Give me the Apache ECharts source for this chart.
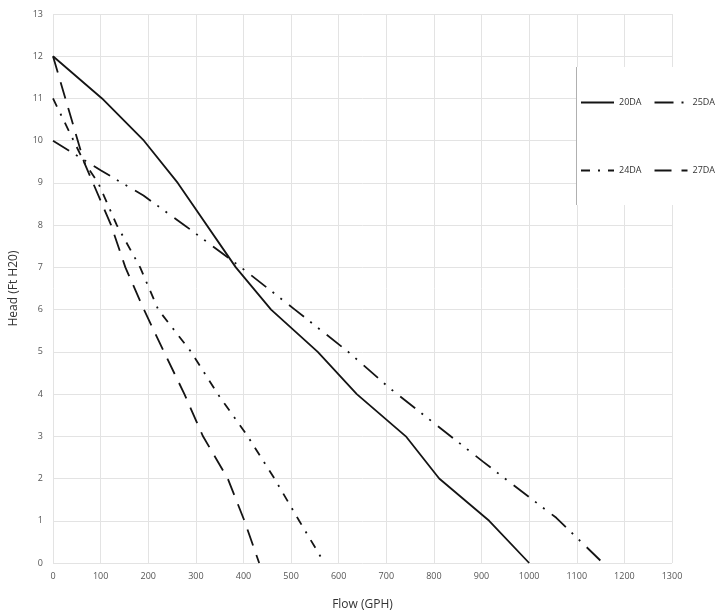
<!DOCTYPE html>
<html>
<head>
<meta charset="utf-8">
<script src="https://cdn.jsdelivr.net/npm/echarts@6/dist/echarts.min.js"></script>
<style>html,body{margin:0;padding:0;background:#fff;}#c{width:715px;height:616px;}</style>
</head>
<body>
<div id="c"></div>
<script>
// Flow (GPH), Head (Ft H20)
const s20DA = [[0,12],[103,11],[191,10],[262,9],[384,7],[458,6],[556,5],[638,4],[741,3],[811,2],[916,1],[1000,0]];
const s25DA = [[0,10],[100,9.3],[190,8.7],[276,8],[395,7],[508,6],[620,5],[706,4.15],[805,3.27],[903,2.4],[1000,1.56],[1057,1.07],[1155,0]];
const s24DA = [[0,11],[65,9.5],[95,9],[134,8],[183,7],[221,6],[290,5],[346,4],[409,3],[465,2],[517,1],[570,0]];
const s27DA = [[0,12],[65,9.5],[84,9],[122,8],[152,7],[191,6],[233,5],[276,4],[315,3],[367,2],[402,1],[433,0]];
const names = ['20DA','25DA','24DA','27DA'];

const FONT = 'Open Sans';
const chart = echarts.init(document.getElementById('c'));
function ser(name, data, dash) {
  return {
    name: name, type: 'line', data: data, symbol: 'none', smooth: false,
    lineStyle: {color: '#141414', width: 1.8, type: dash},
    itemStyle: {color: '#141414'},
    z: 3
  };
}
const legendBase = {
  orient: 'horizontal', left: 580, width: 200, padding: 0, itemWidth: 33, itemHeight: 10, itemGap: 12, z: 20,
  itemStyle: {opacity: 0},
  textStyle: {fontFamily: FONT, fontSize: 9, color: '#333'}
};
chart.setOption({
  animation: false,
  backgroundColor: '#fff',
  grid: {left: 52, right: 43, top: 14, bottom: 53, containLabel: false},
  xAxis: {
    type: 'value', min: 0, max: 1300, interval: 100,
    name: 'Flow (GPH)', nameLocation: 'middle', nameGap: 36,
    nameTextStyle: {fontFamily: FONT, fontSize: 12, color: '#333'},
    axisLine: {show: false}, axisTick: {show: false},
    axisLabel: {fontFamily: FONT, fontSize: 9, color: '#555', margin: 9, formatter: function (v) { return String(v); }},
    splitLine: {show: true, lineStyle: {color: '#e3e3e3', width: 1}}
  },
  yAxis: {
    type: 'value', min: 0, max: 13, interval: 1,
    name: 'Head (Ft H20)', nameLocation: 'middle', nameGap: 33,
    nameTextStyle: {fontFamily: FONT, fontSize: 12, color: '#333'},
    axisLine: {show: false}, axisTick: {show: false},
    axisLabel: {fontFamily: FONT, fontSize: 9, color: '#555', margin: 10},
    splitLine: {show: true, lineStyle: {color: '#e3e3e3', width: 1}}
  },
  graphic: [
    {type: 'rect', z: 10, shape: {x: 577, y: 67, width: 140, height: 138}, style: {fill: '#fff'}},
    {type: 'line', z: 11, shape: {x1: 576.5, y1: 67, x2: 576.5, y2: 205}, style: {stroke: '#b0b0b0', lineWidth: 1}}
  ],
  legend: [
    Object.assign({}, legendBase, {data: [names[0], names[1]], top: 98}),
    Object.assign({}, legendBase, {data: [names[2], names[3]], top: 166})
  ],
  series: [
    ser(names[0], s20DA, 'solid'),
    ser(names[1], s25DA, [19, 8, 2, 8, 2, 9]),
    ser(names[2], s24DA, [9, 8, 2, 8]),
    ser(names[3], s27DA, [17, 10])
  ]
});
</script>
</body>
</html>
